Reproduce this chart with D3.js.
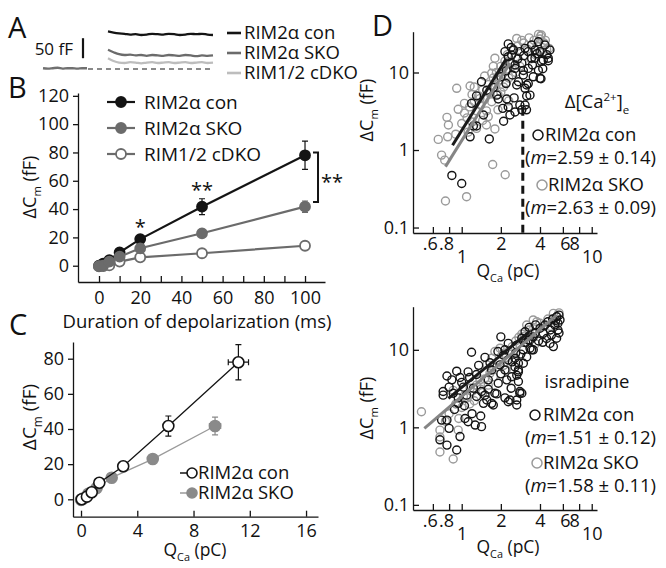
<!DOCTYPE html>
<html>
<head>
<meta charset="utf-8">
<script src="https://cdn.jsdelivr.net/npm/d3@7"></script>
<style>
  body { margin: 0; background: #fff; }
  svg { display: block; }
  text { font-family: "Open Sans", sans-serif; fill: #111; }
</style>
</head>
<body>
<svg id="fig" width="666" height="568"></svg>
<script>
// ---------- data ----------
// Panel A: example capacitance traces (fF)
const traceBase = [2, 1, 2, 3, 1, 2, 2, 1, 2, 2]
const traceCon = [94, 91, 89, 88, 86, 87, 85, 86, 88, 87, 86, 88, 87, 85, 86, 88, 87, 88, 86, 85]
const traceSko = [48, 42, 37, 35, 36, 34, 35, 33, 35, 34, 33, 35, 34, 33, 35, 34, 32, 34, 33, 34]
const traceCdko = [27, 20, 16, 15, 17, 16, 14, 16, 17, 15, 16, 17, 15, 16, 17, 15, 16, 17, 15, 16]
const groupNames = ['RIM2α con', 'RIM2α SKO', 'RIM1/2 cDKO']

// Panel B: ΔCm vs duration (ms)
const durations = [0, 2, 5, 10, 20, 50, 100]
const conB = [0, 1.5, 4, 9.4, 18.8, 41.7, 78]
const conBErr = [0.4, 0.6, 1, 1.5, 2.2, 5.6, 10]
const skoB = [-0.3, 0, 2.9, 6.4, 12.3, 22.9, 41.7]
const skoBErr = [0.3, 0.3, 0.6, 1, 1.5, 1.5, 4]
const cdkoB = [-0.5, -0.3, 0.2, 2.9, 5.9, 8.8, 14.1]
const cdkoBErr = [0.3, 0.3, 0.4, 0.6, 0.8, 1, 1.5]
const starsB = [[20, '*'], [50, '**']]
const bracketB = [80, 45]
const xTicksB = [0, 10, 20, 30, 40, 50, 60, 70, 80, 90, 100]
const yTicksB = [0, 20, 40, 60, 80, 100, 120]

// Panel C: ΔCm vs QCa (pC)
const conQ = [0.05, 0.42, 0.76, 1.3, 3.0, 6.21, 11.19]
const conQErr = [0.05, 0.08, 0.12, 0.1, 0.15, 0.25, 0.72]
const conC = [0, 1.5, 4, 9.4, 18.8, 41.7, 78]
const conCErr = [0.4, 0.6, 1, 1.5, 2.2, 5.7, 10]
const skoQ = [0, 0.17, 0.52, 1.11, 2.18, 5.1, 9.53]
const skoQErr = [0.03, 0.05, 0.08, 0.1, 0.15, 0.2, 0.4]
const skoC = [-0.3, 0.5, 3.2, 6.4, 12.3, 22.9, 41.7]
const skoCErr = [0.3, 0.3, 0.6, 1, 1.5, 1.5, 5]
const xTicksC = [0, 4, 8, 12, 16]
const yTicksC = [0, 20, 40, 60, 80]

// Panel D: log-log scatter [QCa (pC), ΔCm (fF)]
const xTicksD = [0.6, 0.8, 1, 2, 4, 6, 8, 10]
const yTicksD = [0.1, 1, 10]
const caSko = [[0.66,1.37],[0.77,2.64],[0.79,2.1],[0.78,1.48],[0.70,0.86],[0.74,0.74],[0.75,0.22],[1.09,0.25],[0.915,6.25],[0.94,3.35],[1.16,6.7],[1.73,0.65],[2.16,0.48],[1.8,15.3],[2.9,26],[4.05,29.5],[1.8,1.87],[0.9,1.6],
  [1.0,2.2],[1.05,3.0],[1.1,2.6],[1.15,3.6],[1.2,2.3],[1.25,4.2],[1.3,3.2],[1.35,5.0],[1.4,3.8],[1.45,6.0],[1.5,4.5],[1.55,3.2],[1.6,7.0],[1.65,5.5],[1.7,4.2],[1.75,8.5],[1.8,6.5],[1.85,10],[1.9,5.2],[1.95,8],[2.0,12],[2.05,9.5],[2.1,6.5],[2.15,14],[2.2,11],[2.25,17],[2.3,8.5],[2.4,13],[2.5,20],[2.6,16],[2.7,22],[2.8,12],[3.0,24],[3.2,20],[3.4,15],[3.6,26],[3.8,22],[4.0,27],[4.2,18],[4.3,24],[4.5,20],[3.9,31],
  [1.3,1.9],[1.12,1.7],[1.6,2.7],[1.9,3.3],[2.3,4.3],[1.45,2.4],[1.25,6.5],[1.5,9.0],[1.75,12],[2.0,5.6],[2.6,10],[1.38,4.6],[2.65,27.5],[4.1,30.5],[4.7,20.5],[3.3,28],[3.7,17],[4.4,26],[1.2,5.2],[1.7,9.8],[2.2,7.4],[1.55,2.1],[1.05,4.0]]
const caCon = [[0.84,0.47],[1.0,0.37],[1.63,1.39],[1.16,1.48],[1.23,2.04],[1.3,2.04],[1.19,4.0],[1.3,5.0],[1.47,2.83],[1.56,5.9],[1.42,7.6],[1.86,5.1],[1.91,4.55],[2.22,4.55],[2.28,3.6],[2.19,7.2],[2.53,4.7],[2.65,6.9],[2.8,3.8],[3.07,6.25],[3.16,4.97],[3.25,7.2],[2.98,10.6],[2.28,16],[2.15,18.6],[2.5,19.5],[2.35,13.2],[2.57,11.3],[3.25,18.6],[3.66,19.5],[3.45,15.3],[4.0,18.6],[4.1,13.9],[4.07,8.3],[2.9,13.2],[2.07,3.45],
  [2.28,23.4],[2.42,16.8],[2.57,12.5],[2.8,18.6],[3.07,20.5],[3.45,22.6],[3.89,24.9],[4.37,22.6],[4.77,19.5],[4.63,15.3],[4.24,14.5],[3.66,15.3],[3.25,11.3],[2.98,9.3],[2.73,7.6],[3.16,6.9],[3.35,5.1],[3.07,3.8],[2.9,3.3],[2.57,3.1],[2.35,2.83],[4.0,8.4],[3.89,10.7],[3.55,8.8],[4.63,14.2],[2.1,2.35],[2.0,8.8],[2.2,10.5],[2.4,21],[2.7,15],[3.0,16.5],[3.5,12.5],[3.8,17.5],[4.2,11.2],[4.5,17],[2.45,9.3],[1.75,6.4],[3.15,3.3]]
const isrCon = [[1.19,9.3],[2.0,14.7],[0.915,5.3],[0.77,4.6],[0.84,4.1],[0.97,4.4],[1.12,5.2],[1.51,8.0],[1.7,5.5],[1.97,6.4],[2.15,5.5],[2.28,7.4],[2.57,7.8],[2.73,6.7],[2.42,4.5],[2.22,4.1],[1.91,3.7],[1.42,2.9],[1.23,3.2],[1.03,3.3],[0.86,2.75],[0.72,2.9],[0.94,2.4],[1.3,2.5],[1.56,2.25],[1.8,2.75],[2.15,2.4],[2.35,2.25],[2.8,2.75],[1.75,1.94],[1.47,2.04],[3.07,17.1],[2.9,14.1],[3.25,13.4],[3.35,10.5],[2.98,10.0],[2.65,11.5],[2.28,12.1],[2.15,10.0],[2.57,6.0],[2.73,5.2],[3.55,14.7],
  [5.37,26.7],[5.7,24.3],[5.2,20.9],[5.5,18.0],[4.9,15.5],[5.37,14.1],[5.07,11.0],[4.77,12.1],[4.24,16.3],[4.0,19.0],[4.37,20.9],[3.66,16.3],[3.35,13.4],[3.55,10.0],[3.16,8.1],[3.45,10],[2.98,6.7],[2.73,5.5],[2.65,4.7],[2.73,3.9],[2.8,2.9],[2.65,2.25],
  [0.70,1.24],[0.77,1.24],[0.68,0.69],[0.77,0.59],[0.97,0.76],[0.915,0.51],[0.72,2.6],[0.94,2.04],[1.09,2.6],[1.42,1.02],[1.27,1.07],[1.06,1.3],[1.12,1.18],[1.7,2.04],[2.28,2.14],[2.65,1.94],[2.9,2.75],[1.86,2.7],[1.51,2.6],
  [5.5,22],[5.6,28],[5.3,24],[5.0,25],[4.6,23],[4.8,18],[5.6,16.5],[4.5,14],[4.2,12.5],[3.9,13],[3.7,21],[3.3,19.5],[3.1,12.4],[2.85,8.8],[2.6,9],[2.45,7],[2.1,8.5],[1.9,9.5],[1.65,6.8],[1.35,6.3],[1.15,4.4],[1.0,3.8],[0.8,3.3],[1.3,4.8],[1.6,4.1],[2.0,4.9],[1.4,1.4],[1.2,1.5],[1.05,1.9],[0.88,1.7],[1.6,3.1],[2.4,3.2],[0.8,0.97]]
const isrSko = [[0.49,1.59],[0.68,0.92],[0.94,0.92],[0.68,0.48],[0.86,0.39],[0.68,0.75],[1.8,9.5],[1.97,10.5],[2.09,9.0],[1.7,7.8],[1.56,6.4],[1.38,4.1],[1.16,3.2],[1.03,2.5],[0.86,3.0],[3.55,24.3],[3.16,20.9],[3.78,23],[5.07,29.5],[0.8,1.5],[0.9,2.0],[1.0,1.8],[1.1,2.4],[1.2,2.9],[1.3,3.5],[1.4,3.1],[1.5,4.2],[1.65,5.0],[1.75,4.5],[1.85,6.0],[1.95,7.0],[2.1,6.3],[2.2,8.0],[2.3,9.5],[2.45,11],[2.6,13],[2.75,14.5],[2.9,16],[3.05,15],[3.3,18],[3.5,16.5],[4.0,22],[4.3,20],[4.6,25],[5.0,24],[5.4,27],[5.6,30],[1.25,2.2],[1.45,2.8],[0.95,1.3],[2.2,5.5],[2.5,7.5],[1.15,2.0],[0.75,1.2],[1.6,3.5],[4.8,20],[3.7,12]]
// fitted power-law lines, endpoints [[Q0, C0], [Q1, C1]]
const fitCaCon = [[0.85, 1.15], [2.2, 15]]
const fitCaSko = [[0.75, 0.61], [2.35, 13.2]]
const fitIsrCon = [[0.79, 2.37], [3.3, 17]]
const fitIsrSko = [[0.516, 0.97], [5.37, 28]]
const caThreshold = 2.95
const slopesCa = ['2.59 ± 0.14', '2.63 ± 0.09']
const slopesIsr = ['1.51 ± 0.12', '1.58 ± 0.11']

// ---------- styles ----------
const BLACK = '#141414'
const GREY = '#6b6b6b'
const LIGHT = '#bdbdbd'
const SCAT_GREY = '#9a9a9a'
const FS_TICK = 18
const FS_LEG = 18.5

const svg = d3.select('#fig')

function rich(g, x, y, parts, size, opts = {}) {
    const t = g.append('text')
        .attr('x', x).attr('y', y)
        .attr('font-size', size)
        .attr('text-anchor', opts.anchor || 'start')
    if (opts.rotate) t.attr('transform', `rotate(-90,${x},${y})`)
    let shift = 0
    parts.forEach(p => {
        const target = p.sub ? size * 0.3 : p.sup ? -size * 0.38 : 0
        const sp = t.append('tspan').text(p.t).attr('dy', target - shift)
        if (p.sub || p.sup) sp.attr('font-size', size * 0.62)
        if (p.italic) sp.attr('font-style', 'italic')
        shift = target
    })
    return t
}

function panelLetter(x, y, s) {
    svg.append('text').attr('x', x).attr('y', y).attr('font-size', 29).text(s)
}

const dCm = [{ t: 'ΔC' }, { t: 'm', sub: true }, { t: ' (fF)' }]
const qCa = [{ t: 'Q' }, { t: 'Ca', sub: true }, { t: ' (pC)' }]

// ---------- Panel A ----------
panelLetter(8, 38, 'A')
{
    const g = svg.append('g')
    const yA = d3.scaleLinear().domain([0, 50]).range([69, 49])
    const xBase = d3.scaleLinear().domain([0, traceBase.length - 1]).range([43, 87])
    const xA = d3.scaleLinear().domain([0, traceCon.length - 1]).range([108, 213])
    const line = xs => d3.line().x((d, i) => xs(i)).y(d => yA(d)).curve(d3.curveMonotoneX)

    g.append('line')
        .attr('x1', 88).attr('x2', 213).attr('y1', yA(0)).attr('y2', yA(0))
        .attr('stroke', BLACK).attr('stroke-width', 1.2).attr('stroke-dasharray', '5,4')
    g.append('path').datum(traceBase).attr('d', line(xBase))
        .attr('fill', 'none').attr('stroke', '#707070').attr('stroke-width', 2.4)
    ;[[traceCdko, LIGHT], [traceSko, GREY], [traceCon, BLACK]].forEach(([tr, c]) => {
        g.append('path').datum(tr).attr('d', line(xA))
            .attr('fill', 'none').attr('stroke', c).attr('stroke-width', 2.3)
    })
    // scale bar 50 fF
    g.append('line').attr('x1', 83).attr('x2', 83).attr('y1', yA(27)).attr('y2', yA(77))
        .attr('stroke', BLACK).attr('stroke-width', 2.2)
    g.append('text').attr('x', 73).attr('y', 49).attr('dy', '0.35em')
        .attr('text-anchor', 'end').attr('font-size', 17).text('50 fF')
    // legend
    ;[BLACK, GREY, LIGHT].forEach((c, i) => {
        const y = 33 + i * 20
        g.append('line').attr('x1', 227).attr('x2', 241).attr('y1', y).attr('y2', y)
            .attr('stroke', c).attr('stroke-width', 2.6)
        g.append('text').attr('x', 244).attr('y', y).attr('dy', '0.35em')
            .attr('font-size', FS_LEG).text(groupNames[i])
    })
}

// ---------- Panel B ----------
panelLetter(8, 98, 'B')
{
    const g = svg.append('g')
    const x = d3.scaleLinear().domain([-10.2, 109.7]).range([78, 325])
    const y = d3.scaleLinear().domain([-11.5, 122]).range([282, 93])

    g.append('g').attr('transform', 'translate(0,282)')
        .call(d3.axisBottom(x).tickValues(xTicksB).tickFormat(d => d % 20 ? '' : d)
            .tickSizeInner(-6).tickSizeOuter(0).tickPadding(9))
    g.append('g').attr('transform', 'translate(78,0)')
        .call(d3.axisLeft(y).tickValues(yTicksB).tickSizeInner(5).tickSizeOuter(0).tickPadding(4))
    g.selectAll('.domain, .tick line').attr('stroke', BLACK).attr('stroke-width', 1.3)
    g.selectAll('.tick text').attr('font-size', FS_TICK).attr('font-family', null).attr('fill', BLACK)

    const series = [
        { v: conB, e: conBErr, stroke: BLACK, fill: BLACK },
        { v: cdkoB, e: cdkoBErr, stroke: GREY, fill: '#fff' },
        { v: skoB, e: skoBErr, stroke: GREY, fill: GREY }
    ]
    const line = d3.line().x((d, i) => x(durations[i])).y(d => y(d))
    series.forEach(s => {
        g.append('path').datum(s.v).attr('d', line)
            .attr('fill', 'none').attr('stroke', s.stroke).attr('stroke-width', 2.2)
        s.v.forEach((v, i) => {
            if (s.e[i] > 1) {
                const cx = x(durations[i])
                g.append('path')
                    .attr('d', `M${cx},${y(v - s.e[i])}V${y(v + s.e[i])}M${cx - 3},${y(v - s.e[i])}H${cx + 3}M${cx - 3},${y(v + s.e[i])}H${cx + 3}`)
                    .attr('stroke', s.stroke).attr('stroke-width', 1.2).attr('fill', 'none')
            }
        })
        g.selectAll(null).data(s.v).enter().append('circle')
            .attr('cx', (d, i) => x(durations[i])).attr('cy', d => y(d)).attr('r', 5)
            .attr('fill', s.fill).attr('stroke', s.stroke).attr('stroke-width', 1.8)
    })

    starsB.forEach(([t, s]) => {
        const i = durations.indexOf(t)
        g.append('text').attr('x', x(t)).attr('y', y(conB[i] + conBErr[i]) - 2)
            .attr('text-anchor', 'middle').attr('font-size', 20).text(s)
    })
    const bx = x(100) + 13
    g.append('path')
        .attr('d', `M${bx - 5},${y(bracketB[0])}H${bx}V${y(bracketB[1])}H${bx - 5}`)
        .attr('fill', 'none').attr('stroke', BLACK).attr('stroke-width', 2)
    g.append('text').attr('x', bx + 3).attr('y', (y(bracketB[0]) + y(bracketB[1])) / 2 + 12)
        .attr('font-size', 20).text('**')

    // legend
    ;[[BLACK, BLACK], [GREY, GREY], [GREY, '#fff']].forEach(([st, f], i) => {
        const ly = 102 + i * 26
        g.append('line').attr('x1', 107).attr('x2', 135).attr('y1', ly).attr('y2', ly)
            .attr('stroke', st).attr('stroke-width', 2.2)
        g.append('circle').attr('cx', 121).attr('cy', ly).attr('r', 5)
            .attr('fill', f).attr('stroke', st).attr('stroke-width', 1.8)
        g.append('text').attr('x', 144).attr('y', ly).attr('dy', '0.35em')
            .attr('font-size', FS_LEG + 0.5).text(groupNames[i])
    })

    rich(g, 36, 187, dCm, 18, { anchor: 'middle', rotate: true })
    g.append('text').attr('x', 197).attr('y', 322).attr('dy', '0.35em')
        .attr('text-anchor', 'middle').attr('font-size', 18.5).text('Duration of depolarization (ms)')
}

// ---------- Panel C ----------
panelLetter(9, 335, 'C')
{
    const g = svg.append('g')
    const x = d3.scaleLinear().domain([-0.57, 16.85]).range([73, 318])
    const y = d3.scaleLinear().domain([-9.9, 89.5]).range([516.7, 342])

    g.append('g').attr('transform', 'translate(0,516.7)')
        .call(d3.axisBottom(x).tickValues(xTicksC).tickSizeInner(-6).tickSizeOuter(0).tickPadding(8))
    g.append('g').attr('transform', 'translate(73,0)')
        .call(d3.axisLeft(y).tickValues(yTicksC).tickSizeInner(5).tickSizeOuter(0).tickPadding(4))
    g.selectAll('.domain, .tick line').attr('stroke', BLACK).attr('stroke-width', 1.3)
    g.selectAll('.tick text').attr('font-size', FS_TICK).attr('font-family', null).attr('fill', BLACK)

    const series = [
        { q: skoQ, qe: skoQErr, c: skoC, ce: skoCErr, line: '#9a9a9a', stroke: '#8a8a8a', fill: '#8a8a8a' },
        { q: conQ, qe: conQErr, c: conC, ce: conCErr, line: BLACK, stroke: BLACK, fill: '#fff' }
    ]
    series.forEach(s => {
        const pts = s.q.map((q, i) => [q, s.c[i]])
        g.append('path').datum(pts).attr('d', d3.line().x(d => x(d[0])).y(d => y(d[1])))
            .attr('fill', 'none').attr('stroke', s.line).attr('stroke-width', 1.3)
        pts.forEach(([q, c], i) => {
            const cx = x(q), cy = y(c)
            const y0 = y(c - s.ce[i]), y1 = y(c + s.ce[i])
            const x0 = x(q - s.qe[i]), x1 = x(q + s.qe[i])
            g.append('path')
                .attr('d', `M${cx},${y0}V${y1}M${cx - 3},${y0}H${cx + 3}M${cx - 3},${y1}H${cx + 3}` +
                    `M${x0},${cy}H${x1}M${x0},${cy - 3}V${cy + 3}M${x1},${cy - 3}V${cy + 3}`)
                .attr('stroke', s.stroke).attr('stroke-width', 1.2).attr('fill', 'none')
        })
        g.selectAll(null).data(pts).enter().append('circle')
            .attr('cx', d => x(d[0])).attr('cy', d => y(d[1])).attr('r', 5.5)
            .attr('fill', s.fill).attr('stroke', s.stroke).attr('stroke-width', 1.6)
    })

    ;[[BLACK, '#fff', BLACK], ['#9a9a9a', '#8a8a8a', '#8a8a8a']].forEach(([ln, f, st], i) => {
        const ly = 473 + i * 20
        g.append('line').attr('x1', 180).attr('x2', 190).attr('y1', ly).attr('y2', ly)
            .attr('stroke', ln).attr('stroke-width', 1.5)
        g.append('circle').attr('cx', 192).attr('cy', ly).attr('r', 5)
            .attr('fill', f).attr('stroke', st).attr('stroke-width', 1.6)
        g.append('text').attr('x', 198).attr('y', ly).attr('dy', '0.35em')
            .attr('font-size', FS_LEG).text(groupNames[i])
    })

    rich(g, 36, 417, dCm, 19, { anchor: 'middle', rotate: true })
    rich(g, 195, 556, qCa, 17.5, { anchor: 'middle' })
}

// ---------- Panel D ----------
panelLetter(372, 36, 'D')

function logPanel(top, bottom, scatterSko, scatterCon, fitCon, fitSko) {
    const g = svg.append('g')
    const x = d3.scaleLog().domain([0.422, 10.98]).range([413, 597])
    const y = d3.scaleLog().domain(top.domain).range([bottom, top.y])

    const xa = g.append('g').attr('transform', `translate(0,${bottom})`)
        .call(d3.axisBottom(x).tickValues(xTicksD)
            .tickFormat(d => d < 1 ? String(d).slice(1) : String(d))
            .tickSizeInner(-6).tickSizeOuter(0).tickPadding(4))
    xa.selectAll('.tick text').filter(d => d === 1 || d === 10).attr('dy', '1.45em')
    xa.selectAll('.tick text').filter(d => d < 1).attr('dx', -3)
    xa.selectAll('.tick text').filter(d => d === 6).attr('dx', 2)
    xa.selectAll('.tick text').filter(d => d === 8).attr('dx', -5)
    g.append('g').attr('transform', 'translate(413,0)')
        .call(d3.axisLeft(y).tickValues(yTicksD).tickFormat(d => String(d))
            .tickSizeInner(-6).tickSizeOuter(0).tickPadding(4))
    g.selectAll('.domain, .tick line').attr('stroke', BLACK).attr('stroke-width', 1.3)
    g.selectAll('.tick text').attr('font-size', FS_TICK).attr('font-family', null).attr('fill', BLACK)

    ;[[scatterSko, SCAT_GREY], [scatterCon, BLACK]].forEach(([pts, c]) => {
        g.selectAll(null).data(pts).enter().append('circle')
            .attr('cx', d => x(d[0])).attr('cy', d => y(d[1])).attr('r', 4)
            .attr('fill', 'none').attr('stroke', c).attr('stroke-width', 1.4)
    })
    ;[[fitCon, '#1a1a1a'], [fitSko, '#858585']].forEach(([f, c]) => {
        g.append('line')
            .attr('x1', x(f[0][0])).attr('y1', y(f[0][1]))
            .attr('x2', x(f[1][0])).attr('y2', y(f[1][1]))
            .attr('stroke', c).attr('stroke-width', 3)
    })
    return { g, x, y }
}

{
    const { g, x, y } = logPanel({ domain: [0.085, 33.6], y: 31.7 }, 233, caSko, caCon, fitCaCon, fitCaSko)
    g.append('line').attr('x1', x(caThreshold)).attr('x2', x(caThreshold))
        .attr('y1', y(3.5)).attr('y2', 233)
        .attr('stroke', BLACK).attr('stroke-width', 3).attr('stroke-dasharray', '8,5')

    rich(g, 373, 110, dCm, 18, { anchor: 'middle', rotate: true })
    rich(g, 508, 277, qCa, 17.5, { anchor: 'middle' })
    rich(g, 597, 108, [{ t: 'Δ[Ca' }, { t: '2+', sup: true }, { t: ']' }, { t: 'e', sub: true }], FS_LEG, { anchor: 'middle' })
    ;[[BLACK, 538, 545, 135], [SCAT_GREY, 542, 548, 185]].forEach(([c, cx, tx, ly], i) => {
        g.append('circle').attr('cx', cx).attr('cy', ly).attr('r', 5)
            .attr('fill', 'none').attr('stroke', c).attr('stroke-width', 1.5)
        g.append('text').attr('x', tx).attr('y', ly).attr('dy', '0.35em')
            .attr('font-size', FS_LEG).text(groupNames[i])
        rich(g, 525, ly + 23 + 6, [{ t: '(' }, { t: 'm', italic: true }, { t: '=' + slopesCa[i] + ')' }], FS_LEG)
    })
}

{
    const { g } = logPanel({ domain: [0.0858, 36], y: 306.7 }, 510, isrSko, isrCon, fitIsrCon, fitIsrSko)
    rich(g, 373, 408, dCm, 18, { anchor: 'middle', rotate: true })
    rich(g, 508, 553, qCa, 17.5, { anchor: 'middle' })
    g.append('text').attr('x', 587).attr('y', 382).attr('dy', '0.35em')
        .attr('text-anchor', 'middle').attr('font-size', FS_LEG).text('isradipine')
    ;[[BLACK, 535, 543, 415], [SCAT_GREY, 537, 543, 463]].forEach(([c, cx, tx, ly], i) => {
        g.append('circle').attr('cx', cx).attr('cy', ly).attr('r', 5)
            .attr('fill', 'none').attr('stroke', c).attr('stroke-width', 1.5)
        g.append('text').attr('x', tx).attr('y', ly).attr('dy', '0.35em')
            .attr('font-size', FS_LEG).text(groupNames[i])
        rich(g, 525, ly + 23 + 6, [{ t: '(' }, { t: 'm', italic: true }, { t: '=' + slopesIsr[i] + ')' }], FS_LEG)
    })
}
</script>
</body>
</html>
